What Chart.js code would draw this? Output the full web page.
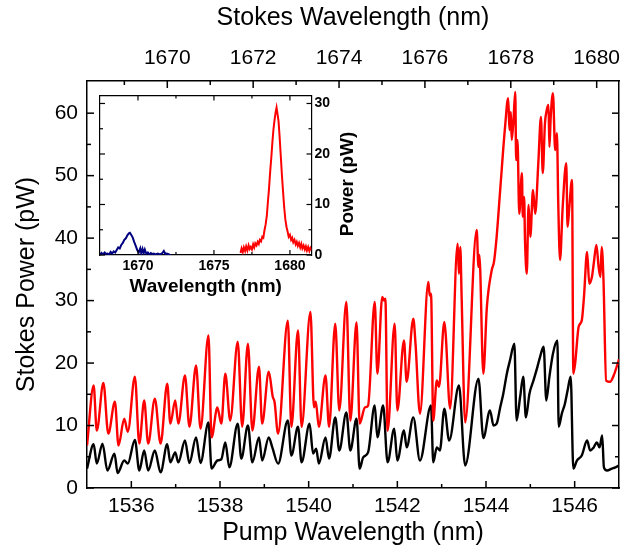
<!DOCTYPE html>
<html>
<head>
<meta charset="utf-8">
<script src="https://cdn.jsdelivr.net/npm/chart.js@4.4.1/dist/chart.umd.min.js"></script>
<style>
  html, body { margin: 0; padding: 0; background: #fff; }
  #wrap { position: relative; width: 636px; height: 552px; }
  #main { position: absolute; left: 0; top: 0; }
  #inset { position: absolute; left: 90px; top: 84px; }
</style>
</head>
<body>
<div id="wrap">
  <canvas id="main" width="636" height="552"></canvas>
  <canvas id="inset" width="270" height="220"></canvas>
</div>
<script>
// ---- main plot: Stokes power vs pump wavelength ----
const redPump = [1535.00, 1535.15, 1535.22, 1535.37, 1535.48, 1535.63, 1535.71, 1535.84, 1535.92, 1536.08,
  1536.18, 1536.29, 1536.38, 1536.53, 1536.66, 1536.81, 1536.88, 1536.99, 1537.06, 1537.21,
  1537.31, 1537.46, 1537.56, 1537.74, 1537.81, 1537.94, 1538.03, 1538.12, 1538.23, 1538.40,
  1538.50, 1538.63, 1538.73, 1538.88, 1538.95, 1539.10, 1539.19, 1539.23, 1539.31, 1539.53,
  1539.61, 1539.76, 1539.84, 1540.04, 1540.12, 1540.16, 1540.23, 1540.38, 1540.46, 1540.60,
  1540.69, 1540.85, 1540.94, 1541.08, 1541.15, 1541.27, 1541.34, 1541.49, 1541.55, 1541.66,
  1541.70, 1541.73, 1541.78, 1541.94, 1542.00, 1542.15, 1542.21, 1542.36, 1542.41, 1542.51,
  1542.70, 1542.73, 1542.76, 1542.81, 1542.89, 1542.94, 1543.06, 1543.09, 1543.19, 1543.36,
  1543.39, 1543.42, 1543.45, 1543.53, 1543.79, 1543.83, 1543.85, 1543.94, 1544.02, 1544.13,
  1544.18, 1544.24, 1544.32, 1544.43, 1544.50, 1544.53, 1544.56, 1544.58, 1544.62, 1544.66,
  1544.68, 1544.71, 1544.75, 1544.81, 1544.83, 1544.86, 1544.88, 1544.92, 1544.96, 1545.00,
  1545.06, 1545.11, 1545.18, 1545.24, 1545.28, 1545.33, 1545.37, 1545.41, 1545.43, 1545.46,
  1545.51, 1545.56, 1545.60, 1545.63, 1545.67, 1545.73, 1545.81, 1545.84, 1545.88, 1545.94,
  1545.97, 1546.01, 1546.09, 1546.16, 1546.21, 1546.28, 1546.33, 1546.39, 1546.43, 1546.49,
  1546.54, 1546.58, 1546.61, 1546.65, 1546.71, 1546.80, 1546.88, 1547.00];
const redPower = [6.8, 16.4, 9.2, 16.8, 8.7, 13.8, 6.8, 11.1, 9.0, 17.8,
  7.1, 14.0, 7.1, 14.3, 7.1, 16.7, 10.3, 14.0, 10.3, 18.0,
  9.8, 19.6, 9.5, 24.4, 8.1, 12.9, 10.3, 18.3, 10.8, 23.4,
  9.8, 23.1, 9.2, 19.4, 10.3, 18.6, 14.6, 13.8, 8.7, 26.8,
  9.8, 25.2, 9.8, 28.2, 12.9, 13.8, 9.8, 18.0, 9.8, 26.3,
  12.4, 29.8, 10.8, 26.5, 10.3, 12.9, 13.2, 29.8, 18.3, 30.6,
  30.0, 30.3, 9.2, 26.3, 12.4, 23.6, 17.0, 27.1, 23.1, 11.9,
  33.0, 30.8, 31.1, 10.8, 17.2, 16.2, 26.6, 24.7, 12.7, 39.1,
  34.3, 38.6, 30.6, 10.5, 41.3, 35.4, 37.3, 18.3, 29.0, 34.9,
  36.2, 40.2, 47.7, 57.8, 62.4, 57.3, 60.2, 55.7, 58.9, 63.4,
  52.5, 55.7, 43.9, 50.4, 43.4, 46.6, 39.7, 34.3, 45.3, 40.2,
  47.7, 43.9, 52.0, 59.4, 50.4, 58.4, 60.5, 61.3, 54.6, 59.4,
  63.2, 54.1, 56.8, 45.5, 36.5, 45.0, 52.0, 41.8, 45.0, 49.3,
  18.3, 19.9, 25.8, 26.8, 30.6, 37.8, 32.7, 33.8, 35.9, 38.9,
  35.4, 33.8, 38.6, 33.3, 17.2, 17.0, 18.0, 20.6];

const blackPump = [1535.00, 1535.15, 1535.22, 1535.35, 1535.46, 1535.62, 1535.69, 1535.84, 1535.92, 1536.08,
  1536.18, 1536.29, 1536.38, 1536.53, 1536.66, 1536.81, 1536.88, 1536.99, 1537.06, 1537.21,
  1537.31, 1537.46, 1537.56, 1537.74, 1537.81, 1537.94, 1538.03, 1538.12, 1538.21, 1538.40,
  1538.48, 1538.63, 1538.73, 1538.88, 1538.95, 1539.10, 1539.18, 1539.31, 1539.53, 1539.61,
  1539.76, 1539.84, 1540.02, 1540.10, 1540.17, 1540.23, 1540.38, 1540.46, 1540.60, 1540.69,
  1540.85, 1540.94, 1541.08, 1541.15, 1541.23, 1541.34, 1541.49, 1541.55, 1541.68, 1541.78,
  1541.93, 1542.00, 1542.15, 1542.21, 1542.36, 1542.51, 1542.76, 1542.81, 1542.89, 1542.96,
  1543.06, 1543.17, 1543.39, 1543.53, 1543.83, 1543.94, 1544.09, 1544.17, 1544.24, 1544.32,
  1544.39, 1544.47, 1544.54, 1544.64, 1544.69, 1544.77, 1544.84, 1544.90, 1544.98, 1545.07,
  1545.16, 1545.22, 1545.30, 1545.36, 1545.43, 1545.51, 1545.61, 1545.64, 1545.71, 1545.78,
  1545.84, 1545.91, 1545.97, 1546.05, 1546.16, 1546.28, 1546.35, 1546.43, 1546.50, 1546.56,
  1546.62, 1546.66, 1546.73, 1546.84, 1546.92, 1547.00];
const blackPower = [3.1, 7.0, 3.9, 7.1, 2.8, 5.5, 2.4, 4.4, 3.9, 7.7,
  2.8, 6.0, 2.8, 6.0, 2.5, 7.0, 4.1, 5.7, 4.1, 7.6,
  4.0, 8.1, 4.0, 10.5, 3.1, 4.4, 4.6, 7.3, 3.3, 10.3,
  4.7, 10.0, 4.1, 8.1, 4.4, 8.1, 6.5, 3.9, 10.8, 5.2,
  9.8, 4.1, 10.3, 5.5, 6.3, 3.9, 8.1, 4.7, 11.3, 6.0,
  12.1, 6.0, 11.1, 3.1, 4.9, 5.7, 13.2, 8.1, 13.2, 4.1,
  9.5, 4.4, 9.2, 6.5, 11.3, 4.4, 13.2, 4.1, 6.5, 6.0,
  12.7, 7.6, 16.4, 3.6, 17.5, 8.0, 12.4, 10.0, 10.3, 12.9,
  15.1, 18.3, 20.4, 23.1, 10.8, 14.6, 17.8, 11.3, 15.1, 17.2,
  19.4, 21.0, 22.6, 14.0, 17.8, 21.5, 23.6, 9.8, 11.9, 13.5,
  15.6, 17.8, 3.1, 4.4, 5.2, 7.6, 6.0, 6.5, 7.3, 6.5,
  8.4, 3.3, 2.8, 3.1, 3.3, 3.6];

const pumpTicks = [1536, 1538, 1540, 1542, 1544, 1546];
const stokesTicks = [1670, 1672, 1674, 1676, 1678, 1680];
const powerTicks = [0, 10, 20, 30, 40, 50, 60];

// ---- inset: spectra ----
const blueWl = [1667.5, 1667.6, 1667.7, 1667.8, 1667.9, 1668.0, 1668.1, 1668.2, 1668.3, 1668.4,
  1668.5, 1668.6, 1668.7, 1668.8, 1668.9, 1669.0, 1669.1, 1669.2, 1669.3, 1669.4,
  1669.47, 1669.55, 1669.65, 1669.75, 1669.85, 1669.95, 1670.05, 1670.15, 1670.22, 1670.3,
  1670.38, 1670.45, 1670.55, 1670.65, 1670.75, 1670.85, 1670.95, 1671.05, 1671.15, 1671.3,
  1671.45, 1671.6, 1671.7, 1671.8, 1671.9, 1672.05, 1672.1];
const bluePow = [0.1, 0.4, 0.1, 0.5, 0.2, 0.3, 0.1, 0.6, 0.3, 0.7,
  0.5, 1.0, 1.5, 1.3, 2.0, 2.4, 3.0, 3.3, 3.9, 4.3,
  4.4, 4.0, 3.5, 2.6, 1.8, 1.0, 0.5, 1.3, 0.3, 1.2,
  0.4, 1.1, 0.2, 0.5, 0.1, 0.4, 0.2, 0.3, 0.1, 0.3,
  0.1, 0.4, 0.8, 0.2, 0.3, 0.1, 0.2];

const insetRedWl = [1676.75, 1676.82, 1676.9, 1676.97, 1677.05, 1677.12, 1677.2, 1677.28, 1677.35, 1677.42,
  1677.5, 1677.58, 1677.65, 1677.72, 1677.8, 1677.88, 1677.95, 1678.02, 1678.1, 1678.18,
  1678.25, 1678.32, 1678.4, 1678.48, 1678.55, 1678.62, 1678.7, 1678.78, 1678.85, 1678.92,
  1679.0, 1679.06, 1679.12, 1679.18, 1679.25, 1679.32, 1679.4, 1679.47, 1679.55, 1679.62,
  1679.7, 1679.78, 1679.85, 1679.92, 1680.0, 1680.08, 1680.15, 1680.22, 1680.3, 1680.38,
  1680.45, 1680.52, 1680.6, 1680.68, 1680.75, 1680.82, 1680.9, 1680.98, 1681.05, 1681.12,
  1681.2, 1681.28, 1681.35, 1681.42];
const insetRedPow = [0.4, 1.3, 0.6, 1.5, 0.8, 1.7, 0.9, 1.9, 1.2, 1.6,
  1.1, 2.1, 1.5, 2.3, 1.9, 2.6, 2.2, 3.0, 2.7, 3.6,
  3.4, 4.8, 6.0, 7.8, 10.5, 13.0, 16.5, 19.5, 22.5, 25.0,
  27.0, 28.3, 29.2, 28.0, 26.5, 23.5, 19.5, 16.0, 12.5, 9.5,
  7.0, 5.5, 4.6, 3.6, 4.0, 3.0, 3.4, 2.5, 3.0, 2.1,
  2.6, 1.8, 2.4, 1.5, 2.2, 1.3, 1.9, 1.1, 1.7, 0.9,
  1.6, 0.8, 1.4, 1.0];

const insetWlTicks = [1670, 1675, 1680];
const insetPowTicks = [0, 10, 20, 30];

const FONT = "'Liberation Sans', Arial, Helvetica, sans-serif";
Chart.defaults.font.family = FONT;
Chart.defaults.color = '#000';

const pts = (xs, ys) => xs.map((x, i) => ({ x, y: ys[i] }));
const fixTicks = vals => scale => { scale.ticks = vals.map(v => ({ value: v })); };

// inward tick marks, placed with each scale's own pixel mapping
const inTicks = {
  id: 'inTicks',
  afterDraw(chart, args, opts) {
    const { ctx, chartArea: a } = chart;
    ctx.save();
    ctx.strokeStyle = '#000';
    ctx.lineWidth = opts.width;
    opts.marks.forEach(m => {
      const s = chart.scales[m.id];
      [[m.major, opts.major], [m.minor, opts.minor]].forEach(([vals, len]) => {
        vals.forEach(v => {
          const p = s.getPixelForValue(v);
          ctx.beginPath();
          if (s.position === 'bottom') { ctx.moveTo(p, a.bottom); ctx.lineTo(p, a.bottom - len); }
          else if (s.position === 'top') { ctx.moveTo(p, a.top); ctx.lineTo(p, a.top + len); }
          else if (s.position === 'left') { ctx.moveTo(a.left, p); ctx.lineTo(a.left + len, p); }
          else { ctx.moveTo(a.right, p); ctx.lineTo(a.right - len, p); }
          ctx.stroke();
        });
      });
    });
    ctx.restore();
  }
};

const frame = { display: true, color: '#000', width: 1.5 };

new Chart(document.getElementById('main'), {
  type: 'scatter',
  data: {
    datasets: [
      { data: pts(redPump, redPower), showLine: true, borderColor: '#ff0000', borderWidth: 2.4,
        pointRadius: 0, cubicInterpolationMode: 'monotone' },
      { data: pts(blackPump, blackPower), showLine: true, borderColor: '#000000', borderWidth: 2.4,
        pointRadius: 0, cubicInterpolationMode: 'monotone' }
    ]
  },
  options: {
    responsive: false,
    animation: false,
    devicePixelRatio: 1,
    layout: { padding: 0 },
    plugins: {
      legend: { display: false },
      tooltip: { enabled: false },
      inTicks: {
        width: 1.5, major: 7, minor: 4,
        marks: [
          { id: 'x', major: pumpTicks, minor: [1537, 1539, 1541, 1543, 1545] },
          { id: 'x2', major: stokesTicks, minor: [1669, 1671, 1673, 1675, 1677, 1679] },
          { id: 'y', major: powerTicks, minor: [5, 15, 25, 35, 45, 55] },
          { id: 'y2', major: powerTicks, minor: [5, 15, 25, 35, 45, 55] }
        ]
      }
    },
    scales: {
      x: {
        type: 'linear', position: 'bottom', min: 1535, max: 1547,
        afterBuildTicks: fixTicks(pumpTicks),
        afterFit: s => { s.height = 64; },
        grid: { display: false, drawTicks: false }, border: frame,
        ticks: { font: { size: 21 }, padding: 6, maxRotation: 0, callback: v => String(v) },
        title: { display: true, text: 'Pump Wavelength (nm)', font: { size: 25 }, padding: { top: 0, bottom: 4 } }
      },
      x2: {
        type: 'linear', position: 'top', min: 1668.13, max: 1680.52,
        afterBuildTicks: fixTicks(stokesTicks),
        afterFit: s => { s.height = 81; },
        grid: { display: false, drawTicks: false }, border: frame,
        ticks: { font: { size: 21 }, padding: 10, maxRotation: 0, callback: v => String(v) },
        title: { display: true, text: 'Stokes Wavelength (nm)', font: { size: 25 }, padding: { top: 3, bottom: 0 } }
      },
      y: {
        type: 'linear', position: 'left', min: 0, max: 65.15,
        afterBuildTicks: fixTicks(powerTicks),
        afterFit: s => { s.width = 87; },
        grid: { display: false, drawTicks: false }, border: frame,
        ticks: { font: { size: 21 }, padding: 9 },
        title: { display: true, text: 'Stokes Power (pW)', font: { size: 25 }, padding: { top: 12, bottom: 0 } }
      },
      y2: {
        type: 'linear', position: 'right', min: 0, max: 65.15,
        afterBuildTicks: fixTicks(powerTicks),
        afterFit: s => { s.width = 17; },
        grid: { display: false, drawTicks: false }, border: frame,
        ticks: { display: false }
      }
    }
  },
  plugins: [inTicks]
});

// inset: white box and upward-reading right title
const insetDeco = {
  id: 'insetDeco',
  beforeDraw(chart) {
    const { ctx, chartArea: a } = chart;
    ctx.save();
    ctx.fillStyle = '#fff';
    ctx.fillRect(a.left, a.top, a.right - a.left, a.bottom - a.top);
    ctx.restore();
  },
  afterDraw(chart, args, opts) {
    const { ctx } = chart;
    ctx.save();
    ctx.translate(opts.x, opts.y);
    ctx.rotate(-Math.PI / 2);
    ctx.font = 'bold 19px ' + FONT;
    ctx.fillStyle = '#000';
    ctx.textAlign = 'center';
    ctx.textBaseline = 'middle';
    ctx.fillText(opts.text, 0, 0);
    ctx.restore();
  }
};

new Chart(document.getElementById('inset'), {
  type: 'scatter',
  data: {
    datasets: [
      { data: pts(blueWl, bluePow), showLine: true, borderColor: '#000080', borderWidth: 2, pointRadius: 0 },
      { data: pts(insetRedWl, insetRedPow), showLine: true, borderColor: '#ff0000', borderWidth: 2, pointRadius: 0 }
    ]
  },
  options: {
    responsive: false,
    animation: false,
    devicePixelRatio: 1,
    layout: { padding: { left: 10, top: 10, right: 0, bottom: 0 } },
    plugins: {
      legend: { display: false },
      tooltip: { enabled: false },
      insetDeco: { text: 'Power (pW)', x: 258, y: 100 },
      inTicks: {
        width: 1.2, major: 5, minor: 3,
        marks: [
          { id: 'x', major: insetWlTicks, minor: [1672.5, 1677.5] },
          { id: 'xt', major: insetWlTicks, minor: [1672.5, 1677.5] },
          { id: 'y', major: insetPowTicks, minor: [5, 15, 25] },
          { id: 'yl', major: insetPowTicks, minor: [5, 15, 25] }
        ]
      }
    },
    scales: {
      x: {
        type: 'linear', position: 'bottom', min: 1667.5, max: 1681.42,
        afterBuildTicks: fixTicks(insetWlTicks),
        afterFit: s => { s.height = 49; },
        grid: { display: false, drawTicks: false }, border: { display: true, color: '#000', width: 1.2 },
        ticks: { font: { size: 14, weight: 'bold' }, padding: 3, maxRotation: 0, callback: v => String(v) },
        title: { display: true, text: 'Wavelength (nm)', font: { size: 19, weight: 'bold' }, padding: { top: 0, bottom: 6 } }
      },
      xt: {
        type: 'linear', position: 'top', min: 1667.5, max: 1681.42,
        afterFit: s => { s.height = 0; },
        grid: { display: false, drawTicks: false }, border: { display: true, color: '#000', width: 1.2 },
        ticks: { display: false }
      },
      y: {
        type: 'linear', position: 'right', min: 0, max: 31.6,
        afterBuildTicks: fixTicks(insetPowTicks),
        afterFit: s => { s.width = 48.5; },
        grid: { display: false, drawTicks: false }, border: { display: true, color: '#000', width: 1.2 },
        ticks: { font: { size: 14, weight: 'bold' }, padding: 3 }
      },
      yl: {
        type: 'linear', position: 'left', min: 0, max: 31.6,
        afterFit: s => { s.width = 0; },
        grid: { display: false, drawTicks: false }, border: { display: true, color: '#000', width: 1.2 },
        ticks: { display: false }
      }
    }
  },
  plugins: [inTicks, insetDeco]
});
</script>
</body>
</html>
